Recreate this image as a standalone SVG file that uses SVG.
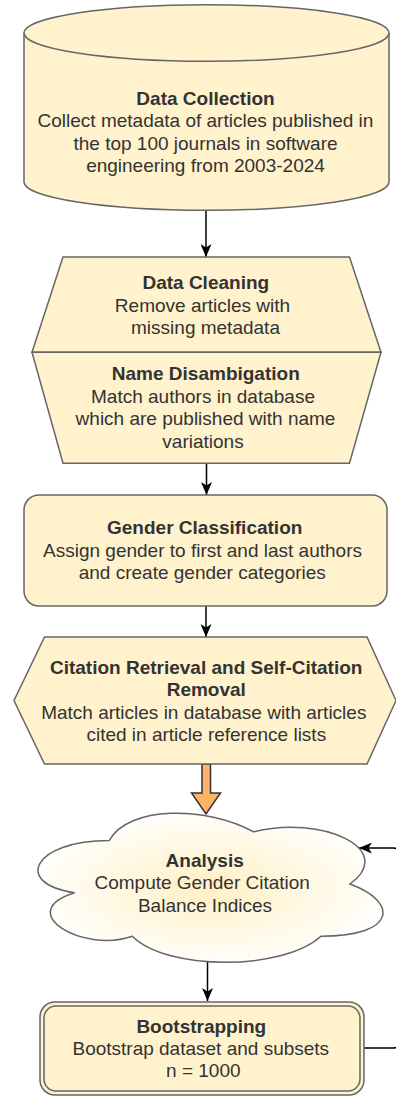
<svg xmlns="http://www.w3.org/2000/svg" width="396" height="1097" viewBox="0 0 396 1097">
<style>
.node{fill:#fff2cc;stroke:#666;stroke-width:1.5}
.t{font-family:"Liberation Sans",Arial,sans-serif;font-size:19px;fill:#333;text-anchor:middle}
.b{font-weight:bold}
.edge{fill:none;stroke:#000;stroke-width:1.5}
</style>
<defs>
<marker id="ah" markerUnits="userSpaceOnUse" viewBox="0 0 13 11" refX="13" refY="5.5" markerWidth="13" markerHeight="11" orient="auto">
<path d="M0,0 L13,5.5 L0,11 L3.5,5.5 Z" fill="#000"/>
</marker>
<radialGradient id="cg" cx="50%" cy="50%" r="55%">
<stop offset="0" stop-color="#fff0c4"/>
<stop offset="1" stop-color="#ffffff"/>
</radialGradient>
</defs>
<g id="connectors">
<path class="edge" d="M206,210 L206,257" marker-end="url(#ah)"/>
<path class="edge" d="M206.5,463 L206.5,495" marker-end="url(#ah)"/>
<path class="edge" d="M206,606 L206,637" marker-end="url(#ah)"/>
<polygon points="202,764 210.5,764 210.5,793 220.5,793 206,814 191.5,793 202,793" fill="#ffb366" stroke="#333" stroke-width="1.5" stroke-linejoin="miter"/>
<path class="edge" d="M207.5,962 L207.5,1001" marker-end="url(#ah)"/>
<path class="edge" d="M364,1048 H393 Q400,1048 400,1041 V855 Q400,848 393,848 H359" marker-end="url(#ah)"/>
</g>
<g id="data-collection">
<path class="node" d="M24,33 A182.5,28.3 0 0 1 389,33 V182 A182.5,28.3 0 0 1 24,182 Z"/>
<path class="node" style="fill:none" d="M24,33 A182.5,28.3 0 0 0 389,33"/>
<text class="t b" x="205.5" y="104.5">Data Collection</text>
<text class="t" x="205.5" y="127">Collect metadata of articles published in</text>
<text class="t" x="205.5" y="149.6">the top 100 journals in software</text>
<text class="t" x="205.5" y="172.2">engineering from 2003-2024</text>
</g>
<g id="data-cleaning">
<polygon class="node" points="63,257 349.5,257 381,352.3 32,352.3"/>
<text class="t b" x="205.8" y="289">Data Cleaning</text>
<text class="t" x="202.5" y="311.5">Remove articles with</text>
<text class="t" x="205.5" y="334">missing metadata</text>
</g>
<g id="name-disambigation">
<polygon class="node" points="32,352.3 381,352.3 349.5,463.3 63,463.3"/>
<text class="t b" x="205.8" y="380">Name Disambigation</text>
<text class="t" x="203" y="402.7">Match authors in database</text>
<text class="t" x="205.5" y="425.3">which are published with name</text>
<text class="t" x="203" y="448">variations</text>
</g>
<g id="gender-classification">
<rect class="node" x="24" y="495" width="363" height="111" rx="15" ry="15"/>
<text class="t b" x="204.7" y="534">Gender Classification</text>
<text class="t" x="202.5" y="556.7">Assign gender to first and last authors</text>
<text class="t" x="202.3" y="579.4">and create gender categories</text>
</g>
<g id="citation-retrieval">
<polygon class="node" points="44.5,637 367,637 396,700.5 367,764 44.5,764 14,700.5"/>
<text class="t b" x="206.2" y="673.5">Citation Retrieval and Self-Citation</text>
<text class="t b" x="206.3" y="696">Removal</text>
<text class="t" x="203.8" y="718.7">Match articles in database with articles</text>
<text class="t" x="206.3" y="741.3">cited in article reference lists</text>
</g>
<g id="analysis">
<path d="M109.25,840.5 C32.25,840.5 13,884 74.6,892.7 C13,911.84 82.3,953.6 132.35,936.2 C167,971 282.5,971 321,936.2 C398,936.2 398,901.4 349.9,884 C398,849.2 321,814.4 253.6,831.8 C205.5,805.7 128.5,805.7 109.25,840.5 Z" fill="url(#cg)" stroke="#666" stroke-width="1.5"/>
<text class="t b" x="204.7" y="866.5">Analysis</text>
<text class="t" x="202.2" y="889">Compute Gender Citation</text>
<text class="t" x="205" y="911.7">Balance Indices</text>
</g>
<g id="bootstrapping">
<rect class="node" x="40" y="1002" width="324" height="93" rx="15" ry="15"/>
<rect class="node" x="44" y="1006" width="316" height="85" rx="12" ry="12"/>
<text class="t b" x="201.3" y="1032.7">Bootstrapping</text>
<text class="t" x="200.8" y="1055">Bootstrap dataset and subsets</text>
<text class="t" x="203.3" y="1077.3">n = 1000</text>
</g>
</svg>
